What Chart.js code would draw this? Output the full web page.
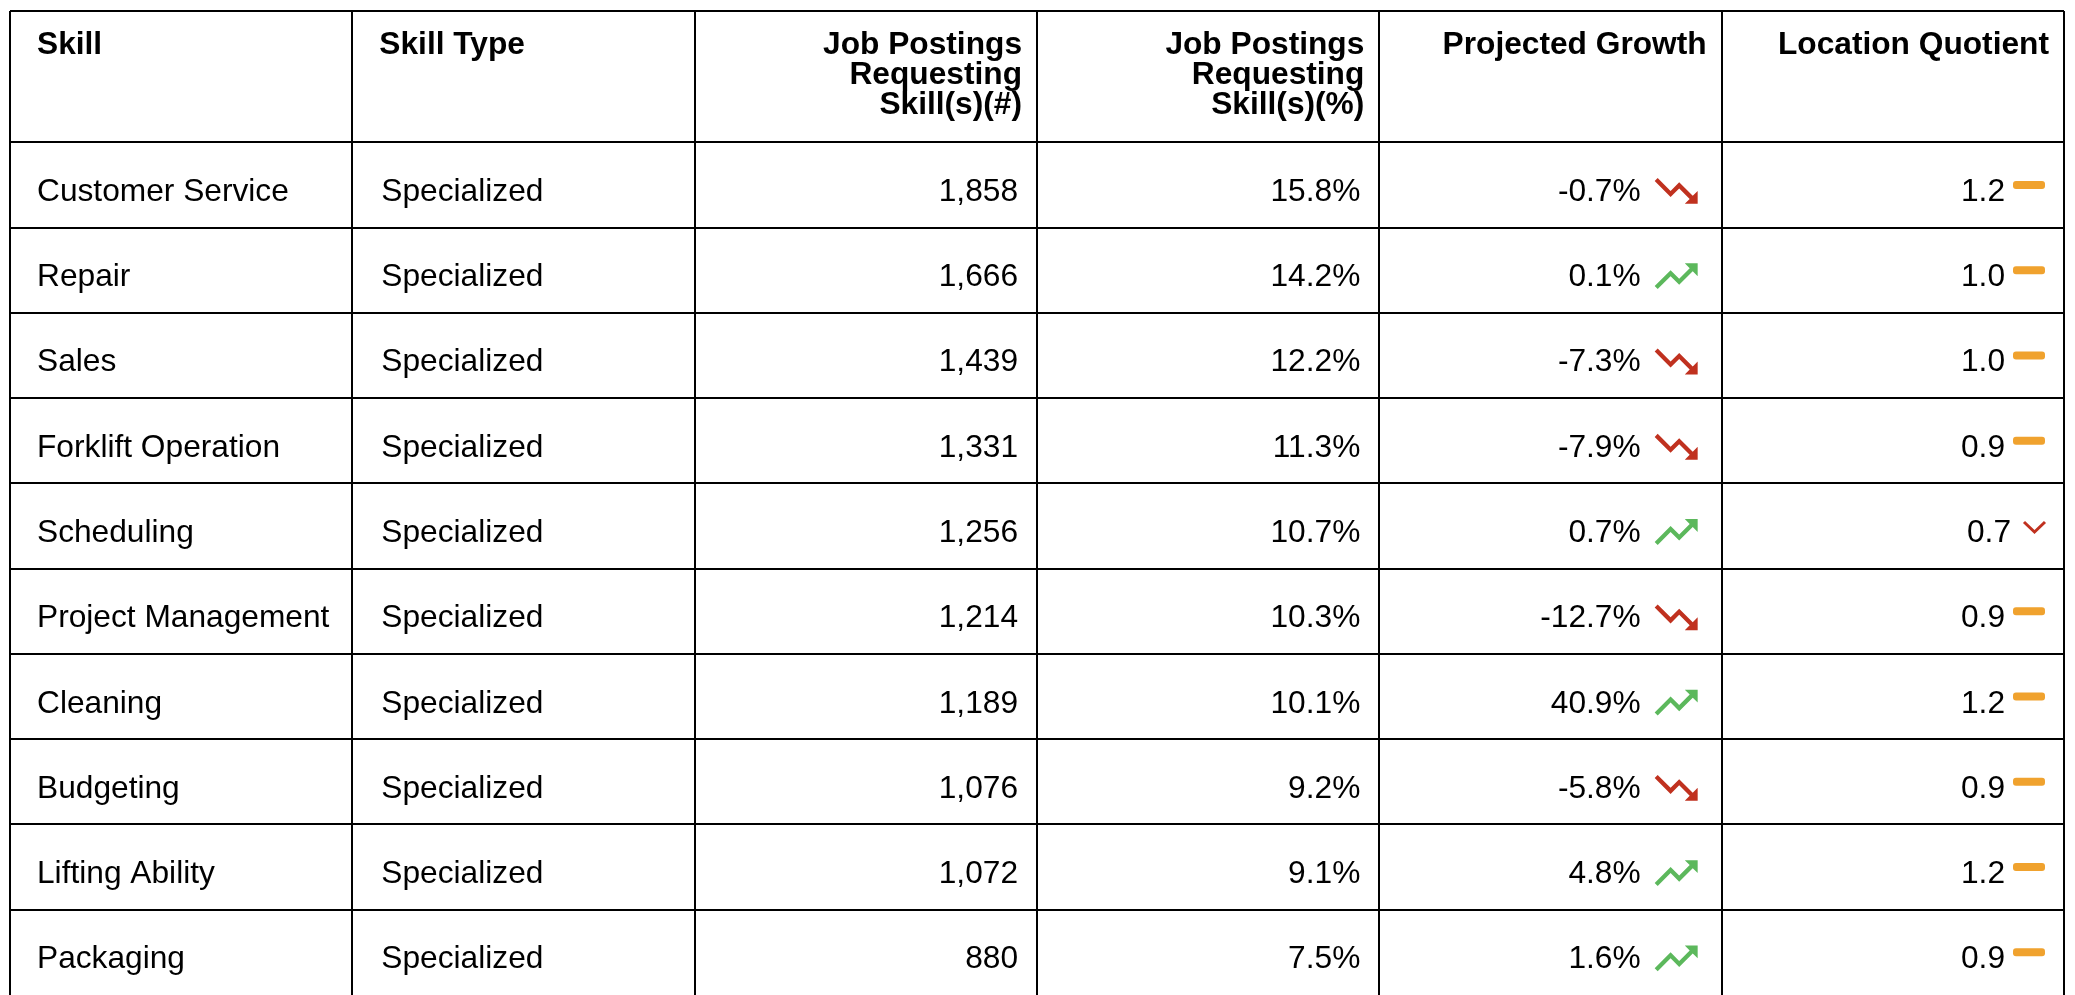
<!DOCTYPE html>
<html>
<head>
<meta charset="utf-8">
<script src="https://cdn.jsdelivr.net/npm/chart.js@4.4.1/dist/chart.umd.min.js"></script>
<style>
  html, body { margin: 0; padding: 0; background: #fff; font-family: "Liberation Sans", Arial, sans-serif; }
  #wrap { width: 2075px; height: 995px; position: relative; }
  .warm { position: absolute; left: -9999px; top: 0; font-size: 32px; }
</style>
</head>
<body>
<div id="wrap"><canvas id="skills-table"></canvas></div>
<span class="warm">Skill <b>Skill</b></span>
<script>
// table content
const headers = [
  ["Skill"],
  ["Skill Type"],
  ["Job Postings", "Requesting", "Skill(s)(#)"],
  ["Job Postings", "Requesting", "Skill(s)(%)"],
  ["Projected Growth"],
  ["Location Quotient"],
];
const skills = [
  "Customer Service", "Repair", "Sales", "Forklift Operation", "Scheduling",
  "Project Management", "Cleaning", "Budgeting", "Lifting Ability", "Packaging",
];
const skillTypes = [
  "Specialized", "Specialized", "Specialized", "Specialized", "Specialized",
  "Specialized", "Specialized", "Specialized", "Specialized", "Specialized",
];
const postingsCount = [1858, 1666, 1439, 1331, 1256, 1214, 1189, 1076, 1072, 880];
const postingsPct = [15.8, 14.2, 12.2, 11.3, 10.7, 10.3, 10.1, 9.2, 9.1, 7.5];
const projectedGrowth = [-0.7, 0.1, -7.3, -7.9, 0.7, -12.7, 40.9, -5.8, 4.8, 1.6];
const locationQuotient = [1.2, 1.0, 1.0, 0.9, 0.7, 0.9, 1.2, 0.9, 1.2, 0.9];

const FONT = '"Liberation Sans", Arial, sans-serif';
const FONT_SIZE = 31.7;
const HEADER_ROWS = 1.54; // header height measured in data-row units
const RED = "#c0311f";
const GREEN = "#5cb85c";
const ORANGE = "#f0a22e";

const trendDown = new Path2D("M16 18l2.29-2.29-4.88-4.88-4 4L2 7.41 3.41 6l6 6 4-4 6.3 6.29L22 12v6z");
const trendUp = new Path2D("M16 6l2.29 2.29-4.88 4.88-4-4L2 16.59 3.41 18l6-6 4 4 6.3-6.29L22 12V6z");

function drawTrend(ctx, right, cy, up) {
  const s = 2.15;
  ctx.save();
  ctx.translate(right - 22 * s, cy - 12 * s);
  ctx.scale(s, s);
  ctx.fillStyle = up ? GREEN : RED;
  ctx.fill(up ? trendUp : trendDown);
  ctx.restore();
}

const tablePlugin = {
  id: "tableCells",
  afterDraw(chart) {
    const { ctx } = chart;
    const { x, y } = chart.scales;
    const colL = (c) => x.getPixelForValue(c);
    const colR = (c) => x.getPixelForValue(c + 1);

    ctx.save();
    ctx.fillStyle = "#000";
    ctx.textBaseline = "alphabetic";

    // header row
    ctx.font = `bold ${FONT_SIZE}px ${FONT}`;
    const headTop = y.getPixelForValue(-HEADER_ROWS);
    headers.forEach((lines, c) => {
      const right = c >= 2;
      ctx.textAlign = right ? "right" : "left";
      const tx = right ? colR(c) - 15 : colL(c) + 27;
      lines.forEach((line, k) => ctx.fillText(line, tx, headTop + 43 + k * 30));
    });

    // data rows
    ctx.font = `${FONT_SIZE}px ${FONT}`;
    skills.forEach((skill, i) => {
      const mid = (y.getPixelForValue(i) + y.getPixelForValue(i + 1)) / 2;
      const base = mid + 16;

      ctx.fillStyle = "#000";
      ctx.textAlign = "left";
      ctx.fillText(skill, colL(0) + 27, base);
      ctx.fillText(skillTypes[i], colL(1) + 29, base);

      ctx.textAlign = "right";
      ctx.fillText(postingsCount[i].toLocaleString("en-US"), colR(2) - 19, base);
      ctx.fillText(postingsPct[i].toFixed(1) + "%", colR(3) - 19, base);

      // projected growth with trend arrow
      const g = projectedGrowth[i];
      const arrowRight = colR(4) - 24;
      drawTrend(ctx, arrowRight, mid + 6, g >= 0);
      ctx.fillStyle = "#000";
      ctx.fillText(g.toFixed(1) + "%", arrowRight - 43 - 14, base);

      // location quotient with marker
      const lq = locationQuotient[i];
      const markRight = colR(5) - 19;
      let textRight;
      if (lq < 0.8) {
        const w = 21;
        ctx.strokeStyle = RED;
        ctx.lineWidth = 3;
        ctx.beginPath();
        ctx.moveTo(markRight - w, mid - 4);
        ctx.lineTo(markRight - w / 2, mid + 6);
        ctx.lineTo(markRight, mid - 4);
        ctx.stroke();
        textRight = markRight - w - 13;
      } else {
        const w = 32;
        ctx.fillStyle = ORANGE;
        ctx.beginPath();
        ctx.roundRect(markRight - w, mid - 4, w, 8, 3);
        ctx.fill();
        textRight = markRight - w - 8;
      }
      ctx.fillStyle = "#000";
      ctx.fillText(lq.toFixed(1), textRight, base);
    });
    ctx.restore();
  },
};

function buildTable() {
  new Chart(document.getElementById("skills-table"), {
    type: "scatter",
    data: { datasets: [] },
    plugins: [tablePlugin],
    options: {
      responsive: true,
      maintainAspectRatio: false,
      animation: false,
      events: [],
      layout: { padding: { left: 10, right: 11, top: 11, bottom: 0 } },
      plugins: { legend: { display: false }, tooltip: { enabled: false } },
      scales: {
        x: {
          type: "linear",
          min: 0,
          max: headers.length,
          afterBuildTicks: (scale) => {
            scale.ticks = headers.map((_, c) => ({ value: c })).concat([{ value: headers.length }]);
          },
          ticks: { display: false, autoSkip: false },
          grid: { color: "#000", lineWidth: 2, drawTicks: false },
          border: { display: false },
        },
        y: {
          type: "linear",
          reverse: true,
          min: -HEADER_ROWS,
          max: skills.length,
          afterBuildTicks: (scale) => {
            scale.ticks = [{ value: -HEADER_ROWS }].concat(skills.map((_, i) => ({ value: i })));
          },
          ticks: { display: false, autoSkip: false },
          grid: { color: "#000", lineWidth: 2, drawTicks: false },
          border: { display: false },
        },
      },
    },
  });
}

Promise.all([
  document.fonts.load(`${FONT_SIZE}px "Liberation Sans"`),
  document.fonts.load(`bold ${FONT_SIZE}px "Liberation Sans"`),
]).then(buildTable, buildTable);
</script>
</body>
</html>
